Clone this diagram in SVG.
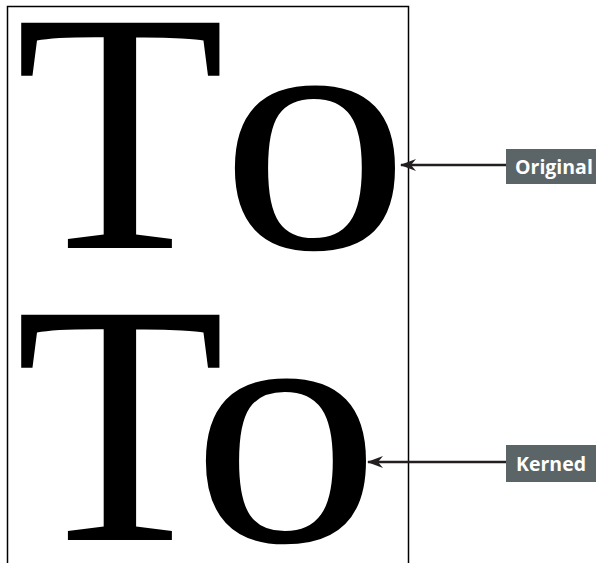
<svg xmlns="http://www.w3.org/2000/svg" width="596" height="563" viewBox="0 0 596 563">
<style>
.glyph{font-family:"Liberation Serif","Times New Roman",serif;fill:#000}
.T{font-size:344px}
.o{font-size:345px}
.lbl rect{fill:#5b6467}
.lbl text{font-family:"Open Sans","Liberation Sans",sans-serif;font-weight:700;font-size:19.5px;fill:#fff}
.conn{stroke:#231f20;stroke-width:2.6;fill:none}
</style>
<defs>
<marker id="ah" viewBox="0 0 16 12" refX="15" refY="6" markerWidth="16" markerHeight="12" markerUnits="userSpaceOnUse" orient="auto">
<path d="M16,6 L0,0 L5,6 L0,12 Z" fill="#231f20"/>
</marker>
</defs>
<rect id="frame" x="7.5" y="6.5" width="401" height="570" fill="#fff" stroke="#000" stroke-width="1.5"/>
<g id="original-sample">
<text class="glyph T" x="15" y="248">T</text>
<text class="glyph o" transform="translate(220.5,248) scale(1.095,1)">o</text>
</g>
<g id="kerned-sample">
<text class="glyph T" x="15" y="540">T</text>
<text class="glyph o" transform="translate(191.5,541) scale(1.095,1)">o</text>
</g>
<g id="connectors">
<line class="conn" x1="507" y1="165" x2="401" y2="165" marker-end="url(#ah)"/>
<line class="conn" x1="507" y1="462" x2="368" y2="462" marker-end="url(#ah)"/>
</g>
<g id="label-original" class="lbl">
<rect x="506" y="149" width="90" height="35"/>
<text x="515" y="173.5">Original</text>
</g>
<g id="label-kerned" class="lbl">
<rect x="506" y="445" width="90" height="37"/>
<text x="516" y="470.5">Kerned</text>
</g>
</svg>
